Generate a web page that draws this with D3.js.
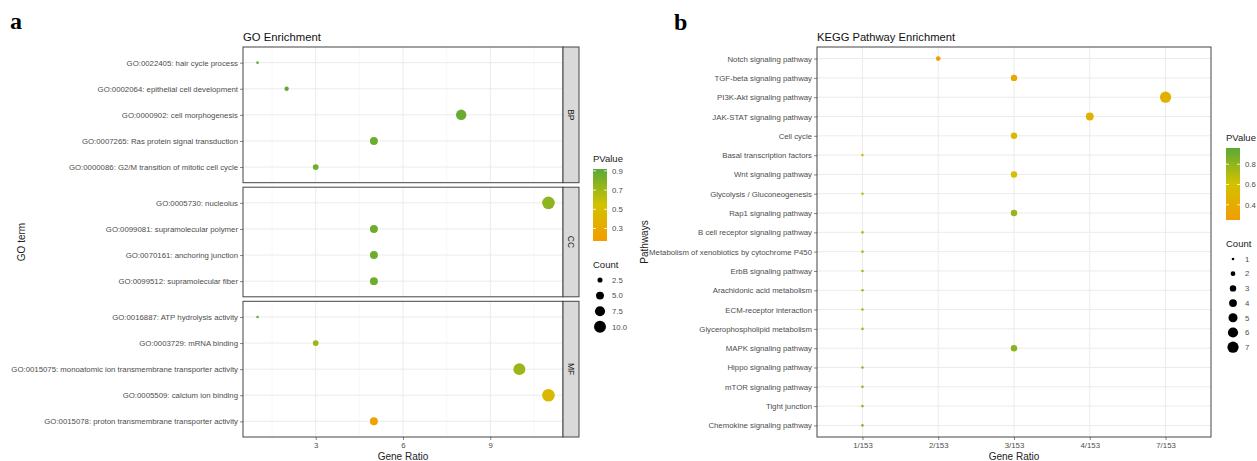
<!DOCTYPE html>
<html>
<head>
<meta charset="utf-8">
<script src="https://cdn.jsdelivr.net/npm/d3@7"></script>
<style>
  body { margin: 0; background: #fff; }
  svg { display: block; font-family: "Liberation Sans", Arial, sans-serif; }
  .domain { display: none; }
</style>
</head>
<body>
<div id="chart"></div>
<script>
// ---- GO enrichment data (panel a) ----
const goTerms = [
  "GO:0022405: hair cycle process",
  "GO:0002064: epithelial cell development",
  "GO:0000902: cell morphogenesis",
  "GO:0007265: Ras protein signal transduction",
  "GO:0000086: G2/M transition of mitotic cell cycle",
  "GO:0005730: nucleolus",
  "GO:0099081: supramolecular polymer",
  "GO:0070161: anchoring junction",
  "GO:0099512: supramolecular fiber",
  "GO:0016887: ATP hydrolysis activity",
  "GO:0003729: mRNA binding",
  "GO:0015075: monoatomic ion transmembrane transporter activity",
  "GO:0005509: calcium ion binding",
  "GO:0015078: proton transmembrane transporter activity"
];
const goOntology = ["BP", "BP", "BP", "BP", "BP", "CC", "CC", "CC", "CC", "MF", "MF", "MF", "MF", "MF"];
const goRatio = [1, 2, 8, 5, 3, 11, 5, 5, 5, 1, 3, 10, 11, 5];
const goCount = [1, 2, 8, 5, 3, 11, 5, 5, 5, 1, 3, 10, 11, 5];
const goPValue = [0.88, 0.9, 0.88, 0.86, 0.85, 0.76, 0.86, 0.86, 0.86, 0.88, 0.72, 0.72, 0.45, 0.22];
const goXTicks = [3, 6, 9];
const goPTicks = [0.3, 0.5, 0.7, 0.9];
const goCountTicks = [2.5, 5.0, 7.5, 10.0];

// ---- KEGG enrichment data (panel b) ----
const keggPathways = [
  "Notch signaling pathway",
  "TGF-beta signaling pathway",
  "PI3K-Akt signaling pathway",
  "JAK-STAT signaling pathway",
  "Cell cycle",
  "Basal transcription factors",
  "Wnt signaling pathway",
  "Glycolysis / Gluconeogenesis",
  "Rap1 signaling pathway",
  "B cell receptor signaling pathway",
  "Metabolism of xenobiotics by cytochrome P450",
  "ErbB signaling pathway",
  "Arachidonic acid metabolism",
  "ECM-receptor interaction",
  "Glycerophospholipid metabolism",
  "MAPK signaling pathway",
  "Hippo signaling pathway",
  "mTOR signaling pathway",
  "Tight junction",
  "Chemokine signaling pathway"
];
const keggRatioLevels = ["1/153", "2/153", "3/153", "4/153", "7/153"];
const keggRatio = ["2/153", "3/153", "7/153", "4/153", "3/153", "1/153", "3/153", "1/153", "3/153", "1/153",
                   "1/153", "1/153", "1/153", "1/153", "1/153", "3/153", "1/153", "1/153", "1/153", "1/153"];
const keggCount = [2, 3, 7, 4, 3, 1, 3, 1, 3, 1, 1, 1, 1, 1, 1, 3, 1, 1, 1, 1];
const keggPValue = [0.28, 0.36, 0.44, 0.46, 0.52, 0.58, 0.6, 0.68, 0.78, 0.72, 0.72, 0.74, 0.74, 0.76, 0.76, 0.82, 0.8, 0.8, 0.82, 0.82];
const keggPTicks = [0.4, 0.6, 0.8];
const keggCountTicks = [1, 2, 3, 4, 5, 6, 7];

const W = 1257, H = 461;
const gradColors = ["#f39c00", "#d3c200", "#5aa936"];
const gridMajor = "#ebebeb", gridMinor = "#f4f4f4", border = "#444";
const tickFont = 7.8, titleFont = 10, legendFont = 9.5;

const svg = d3.select("#chart").append("svg").attr("width", W).attr("height", H);

function makeColor(domain) {
  const [lo, hi] = domain;
  return d3.scaleLinear().domain([lo, (lo + hi) / 2, hi]).range(gradColors).clamp(true);
}

function styleAxis(g) {
  g.selectAll(".tick text").attr("font-size", tickFont).attr("fill", "#4d4d4d");
  g.selectAll(".tick line").attr("stroke", "#333").attr("stroke-width", 0.6);
}

function drawLegend(g, x, y, color, pDomain, pTicks, size, countTicks, countY, countStep) {
  g.append("text").attr("x", x).attr("y", y).attr("font-size", legendFont).attr("fill", "#222").text("PValue");
  const barTop = y + 7, barH = 72, barW = 14;
  const id = "grad" + Math.round(x);
  const grad = svg.append("defs").append("linearGradient").attr("id", id)
    .attr("x1", 0).attr("y1", 1).attr("x2", 0).attr("y2", 0);
  d3.range(0, 1.001, 0.1).forEach(t => {
    grad.append("stop").attr("offset", t).attr("stop-color", color(pDomain[0] + t * (pDomain[1] - pDomain[0])));
  });
  g.append("rect").attr("x", x).attr("y", barTop).attr("width", barW).attr("height", barH).attr("fill", `url(#${id})`);
  const py = d3.scaleLinear().domain(pDomain).range([barTop + barH, barTop]);
  pTicks.forEach(t => {
    g.append("line").attr("x1", x).attr("x2", x + 3).attr("y1", py(t)).attr("y2", py(t)).attr("stroke", "#fff").attr("stroke-width", 0.8);
    g.append("line").attr("x1", x + barW - 3).attr("x2", x + barW).attr("y1", py(t)).attr("y2", py(t)).attr("stroke", "#fff").attr("stroke-width", 0.8);
    g.append("text").attr("x", x + barW + 5).attr("y", py(t)).attr("dy", "0.35em").attr("font-size", tickFont).attr("fill", "#4d4d4d").text(t.toFixed(1));
  });
  g.append("text").attr("x", x).attr("y", countY).attr("font-size", legendFont).attr("fill", "#222").text("Count");
  const allInt = countTicks.every(Number.isInteger);
  countTicks.forEach((c, i) => {
    const cy = countY + 12 + i * countStep;
    g.append("circle").attr("cx", x + 7).attr("cy", cy).attr("r", size(c)).attr("fill", "#000");
    g.append("text").attr("x", x + barW + 5).attr("y", cy).attr("dy", "0.35em").attr("font-size", tickFont).attr("fill", "#4d4d4d")
      .text(allInt ? c : c.toFixed(1));
  });
}

// ================= Panel a: GO =================
(function () {
  const left = 243, right = 563, stripW = 16;
  const top = 47, bottom = 437, gap = 4.5;
  const facets = ["BP", "CC", "MF"];
  const rows = facets.map(f => goTerms.filter((t, i) => goOntology[i] === f));
  const units = rows.map(r => r.length + 0.2);
  const unitPx = (bottom - top - gap * (facets.length - 1)) / d3.sum(units);

  const x = d3.scaleLinear().domain([0.5, 11.5]).range([left, right]);
  const color = makeColor([0.17, 0.92]);
  const size = d3.scaleSqrt().domain([1, 11]).range([1.3, 6.3]);

  const g = svg.append("g");
  svg.append("text").attr("x", 10).attr("y", 29).attr("font-family", "Liberation Serif, serif")
    .attr("font-weight", "bold").attr("font-size", 24).text("a");
  g.append("text").attr("x", left).attr("y", 41).attr("font-size", 11.3).attr("fill", "#111").text("GO Enrichment");

  let y0 = top;
  facets.forEach((f, fi) => {
    const h = units[fi] * unitPx;
    const y = d3.scalePoint().domain(rows[fi]).range([y0, y0 + h]).padding(0.6);
    const pg = g.append("g");
    [1.5, 4.5, 7.5, 10.5].forEach(v => pg.append("line").attr("x1", x(v)).attr("x2", x(v)).attr("y1", y0).attr("y2", y0 + h)
      .attr("stroke", gridMinor).attr("stroke-width", 0.6));
    goXTicks.forEach(v => pg.append("line").attr("x1", x(v)).attr("x2", x(v)).attr("y1", y0).attr("y2", y0 + h)
      .attr("stroke", gridMajor).attr("stroke-width", 1));
    rows[fi].forEach(t => pg.append("line").attr("x1", left).attr("x2", right).attr("y1", y(t)).attr("y2", y(t))
      .attr("stroke", gridMajor).attr("stroke-width", 1));

    goTerms.forEach((t, i) => {
      if (goOntology[i] !== f) return;
      pg.append("circle").attr("cx", x(goRatio[i])).attr("cy", y(t)).attr("r", size(goCount[i])).attr("fill", color(goPValue[i]));
    });

    pg.append("rect").attr("x", left).attr("y", y0).attr("width", right - left).attr("height", h)
      .attr("fill", "none").attr("stroke", border).attr("stroke-width", 1);
    pg.append("rect").attr("x", right).attr("y", y0).attr("width", stripW).attr("height", h)
      .attr("fill", "#d9d9d9").attr("stroke", border).attr("stroke-width", 1);
    pg.append("text").attr("transform", `translate(${right + stripW / 2},${y0 + h / 2}) rotate(90)`)
      .attr("text-anchor", "middle").attr("dy", "0.35em").attr("font-size", 8.5).attr("fill", "#1a1a1a").text(f);

    const ax = pg.append("g").attr("transform", `translate(${left},0)`).call(d3.axisLeft(y).tickSize(3).tickPadding(2));
    styleAxis(ax);

    if (fi === facets.length - 1) {
      const bx = pg.append("g").attr("transform", `translate(0,${y0 + h})`)
        .call(d3.axisBottom(x).tickValues(goXTicks).tickSize(3).tickPadding(2));
      styleAxis(bx);
    }
    y0 += h + gap;
  });

  g.append("text").attr("x", (left + right) / 2).attr("y", 460).attr("text-anchor", "middle")
    .attr("font-size", titleFont).attr("fill", "#222").text("Gene Ratio");
  g.append("text").attr("transform", `translate(25,${(top + bottom) / 2}) rotate(-90)`).attr("text-anchor", "middle")
    .attr("font-size", titleFont).attr("fill", "#222").text("GO term");

  drawLegend(g, 593, 162, color, [0.17, 0.92], goPTicks, size, goCountTicks, 268, 15.6);
})();

// ================= Panel b: KEGG =================
(function () {
  const left = 817, right = 1211, top = 47, bottom = 437;
  const x = d3.scalePoint().domain(keggRatioLevels).range([left, right]).padding(0.6);
  const y = d3.scalePoint().domain(keggPathways).range([top, bottom]).padding(0.6);
  const color = makeColor([0.25, 0.96]);
  const size = d3.scaleSqrt().domain([1, 7]).range([1.3, 5.6]);

  const g = svg.append("g");
  svg.append("text").attr("x", 674).attr("y", 30).attr("font-family", "Liberation Serif, serif")
    .attr("font-weight", "bold").attr("font-size", 24).text("b");
  g.append("text").attr("x", left).attr("y", 41).attr("font-size", 11.2).attr("fill", "#111").text("KEGG Pathway Enrichment");

  keggRatioLevels.forEach(v => g.append("line").attr("x1", x(v)).attr("x2", x(v)).attr("y1", top).attr("y2", bottom)
    .attr("stroke", gridMajor).attr("stroke-width", 1));
  keggPathways.forEach(v => g.append("line").attr("x1", left).attr("x2", right).attr("y1", y(v)).attr("y2", y(v))
    .attr("stroke", gridMajor).attr("stroke-width", 1));

  keggPathways.forEach((p, i) => {
    g.append("circle").attr("cx", x(keggRatio[i])).attr("cy", y(p)).attr("r", size(keggCount[i])).attr("fill", color(keggPValue[i]));
  });

  g.append("rect").attr("x", left).attr("y", top).attr("width", right - left).attr("height", bottom - top)
    .attr("fill", "none").attr("stroke", border).attr("stroke-width", 1);

  // y title first so the long label sits over it, as in the original
  g.append("text").attr("transform", `translate(648,${(top + bottom) / 2}) rotate(-90)`).attr("text-anchor", "middle")
    .attr("font-size", titleFont).attr("fill", "#222").text("Pathways");

  const ax = g.append("g").attr("transform", `translate(${left},0)`).call(d3.axisLeft(y).tickSize(3).tickPadding(2));
  styleAxis(ax);
  const bx = g.append("g").attr("transform", `translate(0,${bottom})`).call(d3.axisBottom(x).tickSize(3).tickPadding(2));
  styleAxis(bx);

  g.append("text").attr("x", (left + right) / 2).attr("y", 460).attr("text-anchor", "middle")
    .attr("font-size", titleFont).attr("fill", "#222").text("Gene Ratio");

  drawLegend(g, 1226, 141, color, [0.25, 0.96], keggPTicks, size, keggCountTicks, 247, 14.7);
})();
</script>
</body>
</html>
